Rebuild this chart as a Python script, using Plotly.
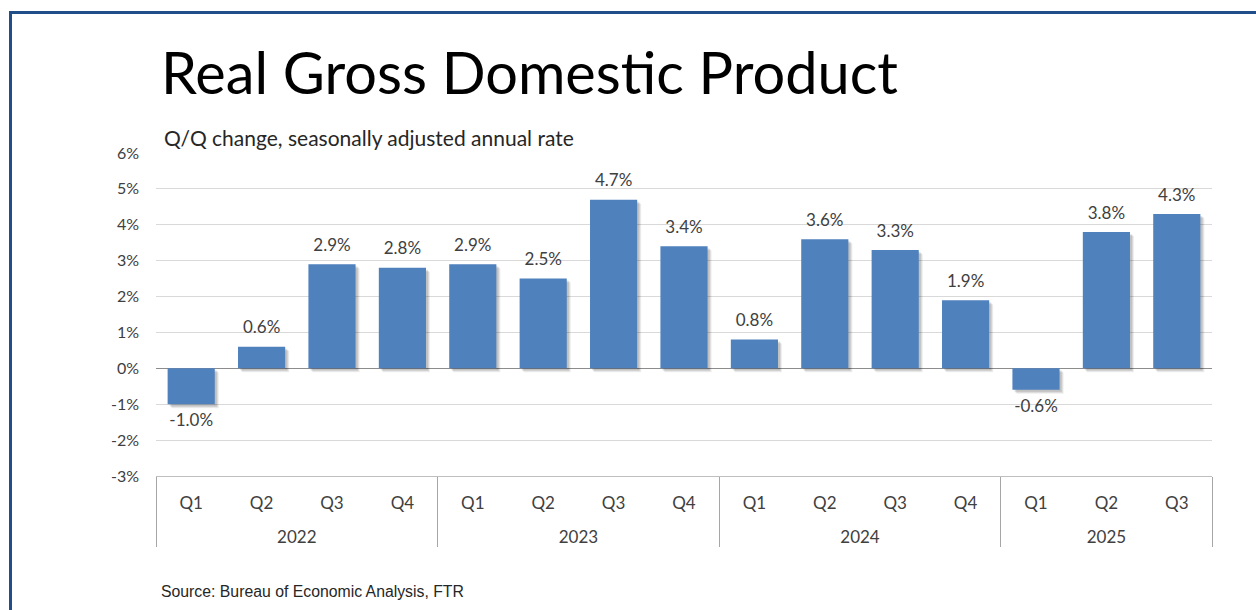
import plotly.graph_objects as go

# Real GDP, quarter-over-quarter change at a seasonally adjusted annual rate (%)
years = ["2022"] * 4 + ["2023"] * 4 + ["2024"] * 4 + ["2025"] * 3
quarters = ["Q1", "Q2", "Q3", "Q4"] * 3 + ["Q1", "Q2", "Q3"]
gdp_growth = [-1.0, 0.6, 2.9, 2.8, 2.9, 2.5, 4.7, 3.4, 0.8, 3.6, 3.3, 1.9, -0.6, 3.8, 4.3]

y_ticks = list(range(-3, 7))
y_tick_labels = [f"{v}%" for v in y_ticks]
value_labels = [f"{v:.1f}%" for v in gdp_growth]

BAR_BLUE = "#4F81BD"
TEXT = "#404040"
FONT = "Lato"

W, H = 1256, 610
L, R, T, B = 156, 44, 153, 134
plot_w, plot_h = W - L - R, H - T - B

# year labels sit on a second line so the group row is spaced well below the quarters
year_row = ["<br>" + y for y in years]
x_cats = [year_row, quarters]
n = len(gdp_growth)
bar_w = 0.67

fig = go.Figure()

# soft drop shadow behind each bar (slightly shifted right and down)
y_span = 9.0
for shift_px, alpha in [(4, 0.07), (3, 0.09), (2, 0.10)]:
    dy = shift_px * y_span / plot_h
    fig.add_trace(go.Bar(
        x=x_cats,
        y=gdp_growth,
        base=[-dy] * n,
        width=bar_w,
        offset=-bar_w / 2 + shift_px / (plot_w / n),
        marker=dict(color=f"rgba(0,0,0,{alpha})", line=dict(width=0)),
        hoverinfo="skip",
        showlegend=False,
    ))

fig.add_trace(go.Bar(
    x=x_cats,
    y=gdp_growth,
    width=bar_w,
    offset=-bar_w / 2,
    marker=dict(color=BAR_BLUE, line=dict(width=0)),
    showlegend=False,
))

# value labels: above positive bars, below negative ones
fig.add_trace(go.Scatter(
    x=x_cats,
    y=gdp_growth,
    mode="markers+text",
    marker=dict(size=13, color="rgba(0,0,0,0)"),
    text=value_labels,
    textposition=["top center" if v >= 0 else "bottom center" for v in gdp_growth],
    textfont=dict(family=FONT, size=17, color=TEXT),
    cliponaxis=False,
    hoverinfo="skip",
    showlegend=False,
))

fig.update_layout(
    width=W,
    height=H,
    margin=dict(l=L, r=R, t=T, b=B),
    paper_bgcolor="white",
    plot_bgcolor="white",
    barmode="overlay",
    font=dict(family=FONT, color=TEXT),
    title=dict(
        text="Real Gross Domestic Product",
        font=dict(family=FONT, size=57.7, color="#000000"),
        x=161 / W,
        xanchor="left",
        xref="container",
        y=1 - 74 / H,
        yanchor="middle",
        yref="container",
    ),
)

fig.update_yaxes(
    range=[-3, 6],
    tickvals=y_ticks,
    ticktext=y_tick_labels,
    tickfont=dict(family=FONT, size=16, color=TEXT),
    ticklabelstandoff=16,
    showgrid=True,
    gridcolor="#D9D9D9",
    gridwidth=1,
    zeroline=True,
    zerolinecolor="#8C8C8C",
    zerolinewidth=1,
    showline=False,
    fixedrange=True,
)

fig.update_xaxes(
    type="multicategory",
    range=[-0.5, n - 0.5],
    tickfont=dict(family=FONT, size=17, color=TEXT),
    ticklabelstandoff=12,
    showline=True,
    linecolor="#BFBFBF",
    linewidth=1,
    showdividers=True,
    dividercolor="#A6A6A6",
    dividerwidth=1,
    ticks="",
    showgrid=False,
    fixedrange=True,
)

fig.add_annotation(
    text="Q/Q change, seasonally adjusted annual rate",
    xref="paper", yref="paper",
    x=(162 - L) / plot_w, y=(H - B - 138) / plot_h,
    xanchor="left", yanchor="middle",
    showarrow=False,
    font=dict(family=FONT, size=21, color="#262626"),
)

fig.add_annotation(
    text="Source: Bureau of Economic Analysis, FTR",
    xref="paper", yref="paper",
    x=(159 - L) / plot_w, y=(H - B - 591) / plot_h,
    xanchor="left", yanchor="middle",
    showarrow=False,
    font=dict(family="Liberation Sans", size=15.8, color="#262626"),
)

# dark blue frame around the slide
fig.add_shape(
    type="rect",
    xref="paper", yref="paper",
    x0=(10.5 - L) / plot_w, x1=(W + 20 - L) / plot_w,
    y0=(H - B - (H + 20)) / plot_h, y1=(H - B - 12.5) / plot_h,
    line=dict(color="#1F4E88", width=3),
    fillcolor="rgba(0,0,0,0)",
    layer="above",
)

fig.write_html("out.html")
